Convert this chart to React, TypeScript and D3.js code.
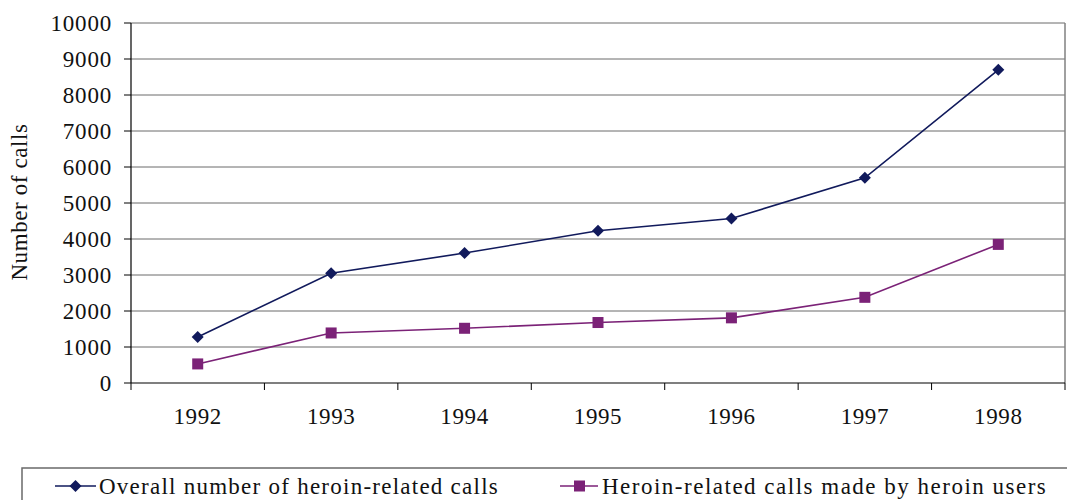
import React from "react";
import * as d3 from "d3";

const years = ["1992", "1993", "1994", "1995", "1996", "1997", "1998"];
const overallCalls = [1280, 3050, 3610, 4230, 4570, 5700, 8700];
const heroinUserCalls = [530, 1390, 1520, 1680, 1810, 2380, 3850];
const yTicks = [0, 1000, 2000, 3000, 4000, 5000, 6000, 7000, 8000, 9000, 10000];
const seriesNames = ["Overall number of heroin-related calls", "Heroin-related calls made by heroin users"];
const yTitle = "Number of calls";

const W = 1067, H = 500;
const left = 131, right = 1065, top = 23, bottom = 383;
const BLUE = "#111a5c";
const PURPLE = "#7b2277";
const FONT = "Liberation Serif, Times New Roman, serif";

export default function App() {
  const x = d3.scaleBand().domain(years).range([left, right]);
  const y = d3.scaleLinear().domain([0, 10000]).range([bottom, top]);
  const cx = (d: string) => (x(d) as number) + x.bandwidth() / 2;
  const line = d3.line<number>().x((_, i) => cx(years[i])).y((v) => y(v));
  const diamond = (px: number, py: number, r: number) => `M${px},${py - r}L${px + r},${py}L${px},${py + r}L${px - r},${py}Z`;
  const boundaries = years.map((d) => x(d) as number).concat([right]);
  const ts = { fontFamily: FONT };

  return (
    <svg width={W} height={H} style={{ position: "absolute", left: 0, top: 0, background: "#fff", fontFamily: FONT }}>
      {yTicks.map((t) => (
        <g key={t}>
          {t > 0 && <line x1={left} x2={right} y1={y(t)} y2={y(t)} stroke="#6a6a6a" strokeWidth={1} />}
          <line x1={124} x2={left} y1={y(t)} y2={y(t)} stroke="#000" strokeWidth={1} />
          <text style={ts} x={112} y={y(t)} dy="0.35em" textAnchor="end" fontSize={23} letterSpacing={0.8} fill="#111">{t}</text>
        </g>
      ))}
      <line x1={right} x2={right} y1={top} y2={bottom} stroke="#808080" strokeWidth={1.5} />
      <line x1={left} x2={left} y1={top} y2={bottom} stroke="#000" strokeWidth={1.2} />
      <line x1={left} x2={right} y1={bottom} y2={bottom} stroke="#000" strokeWidth={1.2} />
      {boundaries.map((b, i) => (
        <line key={i} x1={b} x2={b} y1={bottom} y2={bottom + 7} stroke="#000" strokeWidth={1} />
      ))}
      {years.map((d) => (
        <text key={d} style={ts} x={cx(d)} y={424} textAnchor="middle" fontSize={23} letterSpacing={0.6} fill="#111">{d}</text>
      ))}
      <text style={ts} transform={`translate(27,202) rotate(-90)`} textAnchor="middle" fontSize={23} letterSpacing={0.6} fill="#111">{yTitle}</text>

      <path d={line(overallCalls) || ""} fill="none" stroke={BLUE} strokeWidth={1.6} />
      <path d={line(heroinUserCalls) || ""} fill="none" stroke={PURPLE} strokeWidth={1.6} />
      {overallCalls.map((v, i) => (
        <path key={i} d={diamond(cx(years[i]), y(v), 6)} fill={BLUE} />
      ))}
      {heroinUserCalls.map((v, i) => (
        <rect key={i} x={cx(years[i]) - 5.5} y={y(v) - 5.5} width={11} height={11} fill={PURPLE} />
      ))}

      <rect x={22} y={468} width={1060} height={60} fill="none" stroke="#6a6a6a" strokeWidth={1.5} />
      <line x1={55} x2={96} y1={486} y2={486} stroke={BLUE} strokeWidth={1.6} />
      <path d={diamond(75.5, 486, 6)} fill={BLUE} />
      <text style={ts} x={99} y={494} fontSize={23} letterSpacing={1.25} fill="#111">{seriesNames[0]}</text>
      <line x1={560} x2={598} y1={486} y2={486} stroke={PURPLE} strokeWidth={1.6} />
      <rect x={574} y={480.5} width={11} height={11} fill={PURPLE} />
      <text style={ts} x={602} y={494} fontSize={23} letterSpacing={1.5} fill="#111">{seriesNames[1]}</text>
    </svg>
  );
}
